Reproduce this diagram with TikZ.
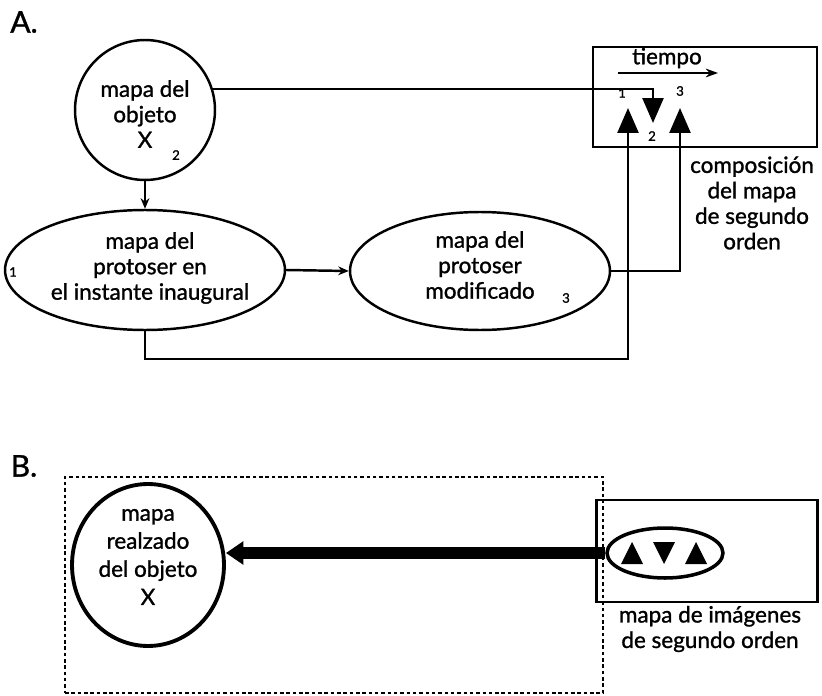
\documentclass[tikz,border=0pt]{standalone}
\usepackage{fontspec}
\setmainfont{Lato}[FakeBold=1.2]
\usetikzlibrary{arrows.meta,shapes.geometric}

\tikzset{
  line/.style={line width=1.4pt},
  bigtip/.style={-{Triangle[length=0.5cm,width=0.42cm]}},
  txt/.style={align=center, font=\fontsize{12.8}{14.5}\selectfont, inner sep=0pt},
  num/.style={font=\fontsize{7.5}{8}\selectfont, inner sep=0pt},
  ellip/.style={ellipse, draw, line width=1.4pt, inner sep=0pt},
  boxed/.style={rectangle, draw, line width=1.4pt, inner sep=0pt},
  part/.style={font=\fontsize{17}{17}\selectfont, inner sep=0pt}
}

\begin{document}
\begin{tikzpicture}[x=0.02cm, y=-0.02cm]
\useasboundingbox (0,0) rectangle (822,696);

% A. composicion del mapa de segundo orden
\node[part] (lblA) at (24,22) {A.};

\node[circle, draw, line, minimum size=2.8cm, inner sep=0pt] (obj) at (145,110) {};
\node[txt] (objtxt) at (145,114) {mapa del\\objeto\\X};
\node[num] (nobj) at (176,155) {2};

\node[ellip, minimum width=5.6cm, minimum height=2.4cm] (e1) at (145,270) {};
\node[txt] (e1txt) at (150,268) {mapa del\\protoser en\\el instante inaugural};
\node[num] (ne1) at (13,272) {1};

\node[ellip, minimum width=5.2cm, minimum height=2.36cm] (e2) at (480,271) {};
\node[txt] (e2txt) at (480,265) {mapa del\\protoser\\modificado};
\node[num] (ne2) at (566,298) {3};

\node[boxed, minimum width=4.48cm, minimum height=2cm] (comp) at (705,97) {};
\node[txt] (tiempo) at (667,58) {tiempo};
\coordinate (ta) at (618,73);
\coordinate (tb) at (718,73);
\draw[line width=1pt, -{Stealth[length=7pt,width=5pt]}] (ta) -- (tb);
\node[num] (c1) at (622,93) {1};
\node[num] (c3) at (680,91) {3};
\node[num] (c2) at (652,136) {2};
\node[txt] (comptxt) at (752,203) {composición\\del mapa\\de segundo\\orden};

\coordinate (t1) at (628,108);
\coordinate (t2) at (653,123);
\coordinate (t3) at (680,108);

\draw[line, -{Stealth[length=6pt,width=5pt]}] (obj.south) -- (e1.north);
\draw[line, -{Stealth[length=6pt,width=5pt]}] (e1.east) -- (e2.west);
\draw[line, bigtip] (obj.17) -| (t2);
\draw[line, bigtip] (e1.south) -- ++(0,28) -| (t1);
\draw[line, bigtip] (e2.east) -| (t3);

% B. mapa de imagenes de segundo orden
\node[part] (lblB) at (24,466) {B.};

\node[draw, line width=1.1pt, dash pattern=on 2pt off 1.6pt, minimum width=10.76cm, minimum height=4.32cm, inner sep=0pt] (dotbox) at (334,585) {};

\node[ellipse, draw, line width=2.2pt, minimum width=3.04cm, minimum height=3.24cm, inner sep=0pt] (realz) at (148,565) {};
\node[txt, font=\fontsize{12.8}{16}\selectfont] (realztxt) at (148,557) {mapa\\realzado\\del objeto\\X};

\node[boxed, minimum width=4.42cm, minimum height=2.04cm] (imgbox) at (707,551) {};
\node[ellipse, draw, line width=2pt, fill=white, minimum width=2.32cm, minimum height=1cm, inner sep=0pt] (tri) at (665,553) {};
\foreach \x/\r in {632/0, 664/180, 696/0}
  \fill[rotate around={\r:(\x,553)}] (\x-11,564) -- (\x+11,564) -- (\x,542) -- cycle;
\node[txt] (imgtxt) at (710,629) {mapa de imágenes\\de segundo orden};

\draw[line width=0.24cm, -{Triangle[length=0.35cm,width=0.45cm]}] (tri.west) -- (tri.west -| realz.east);
\end{tikzpicture}
\end{document}
